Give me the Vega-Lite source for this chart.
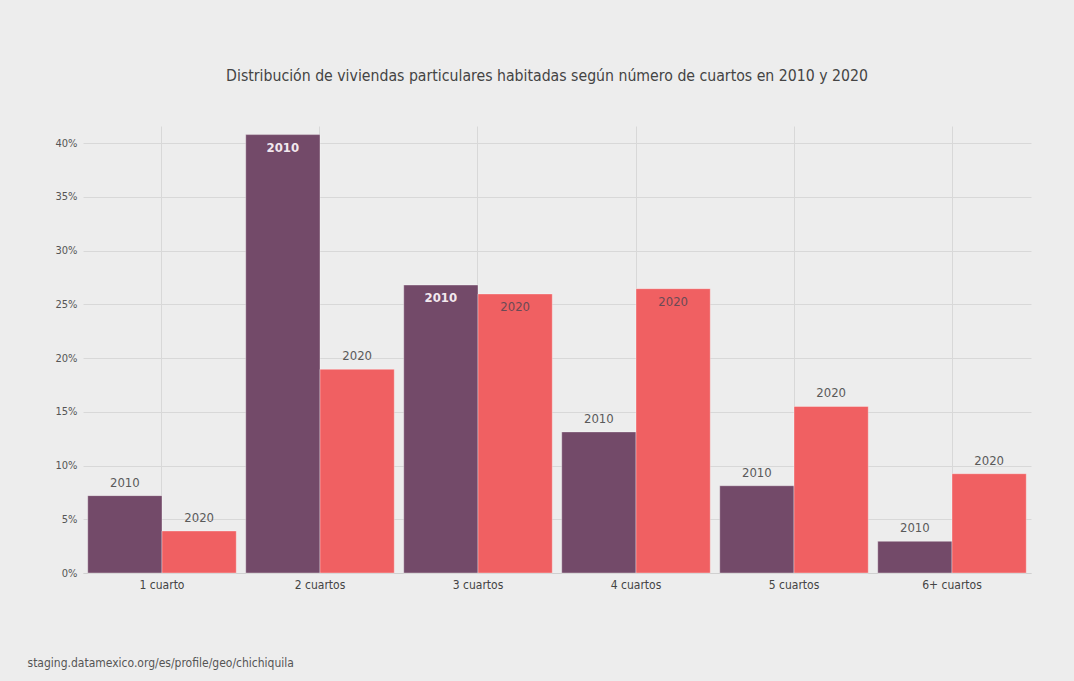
{
  "$schema": "https://vega.github.io/schema/vega-lite/v6.json",
  "width": 948,
  "height": 447,
  "autosize": {"type": "none"},
  "padding": {"left": 83, "top": 126, "right": 43, "bottom": 108},
  "background": "#ededed",
  "title": {
    "text": "Distribución de viviendas particulares habitadas según número de cuartos en 2010 y 2020",
    "anchor": "middle",
    "frame": "group",
    "dx": -10,
    "offset": 41,
    "fontSize": 15.7,
    "fontWeight": "normal",
    "color": "#444444",
    "font": "Liberation Sans Narrow, DejaVu Sans Condensed, Roboto"
  },
  "data": {
    "values": [
      {"cuartos": "1 cuarto", "year": "2010", "pct": 0.072},
      {"cuartos": "1 cuarto", "year": "2020", "pct": 0.0391},
      {"cuartos": "2 cuartos", "year": "2010", "pct": 0.408},
      {"cuartos": "2 cuartos", "year": "2020", "pct": 0.1896},
      {"cuartos": "3 cuartos", "year": "2010", "pct": 0.268},
      {"cuartos": "3 cuartos", "year": "2020", "pct": 0.2597},
      {"cuartos": "4 cuartos", "year": "2010", "pct": 0.1313},
      {"cuartos": "4 cuartos", "year": "2020", "pct": 0.2646},
      {"cuartos": "5 cuartos", "year": "2010", "pct": 0.0812},
      {"cuartos": "5 cuartos", "year": "2020", "pct": 0.155},
      {"cuartos": "6+ cuartos", "year": "2010", "pct": 0.0295},
      {"cuartos": "6+ cuartos", "year": "2020", "pct": 0.0924}
    ]
  },
  "encoding": {
    "x": {
      "field": "cuartos",
      "type": "nominal",
      "sort": null,
      "scale": {"paddingInner": 0.06, "paddingOuter": 0.03},
      "axis": {
        "title": "staging.datamexico.org/es/profile/geo/chichiquila",
        "titleX": -56,
        "titleY": 89,
        "titleAlign": "left",
        "titleBaseline": "middle",
        "titleFontSize": 12,
        "titleFontWeight": "normal",
        "titleColor": "#555555",
        "titleFont": "Liberation Sans Narrow, DejaVu Sans Condensed, Roboto",
        "labelAngle": 0,
        "labelFontSize": 12,
        "labelColor": "#444444",
        "labelFont": "Liberation Sans Narrow, DejaVu Sans Condensed, Roboto",
        "labelPadding": 6,
        "ticks": false,
        "grid": true,
        "bandPosition": 0.5,
        "gridColor": "#d8d8d8",
        "gridWidth": 1,
        "domain": true,
        "domainColor": "#d0d0d0",
        "domainWidth": 1
      }
    },
    "xOffset": {"field": "year", "type": "nominal"},
    "y": {
      "field": "pct",
      "type": "quantitative",
      "scale": {"domain": [0, 0.416], "nice": false},
      "axis": {
        "title": null,
        "values": [0, 0.05, 0.1, 0.15, 0.2, 0.25, 0.3, 0.35, 0.4],
        "format": ".0%",
        "labelFontSize": 11,
        "labelColor": "#555555",
        "labelFont": "Liberation Sans Narrow, DejaVu Sans Condensed, Roboto",
        "labelPadding": 6,
        "ticks": false,
        "domain": false,
        "grid": true,
        "gridColor": "#d8d8d8",
        "gridWidth": 1
      }
    }
  },
  "layer": [
    {
      "mark": {"type": "bar", "stroke": "#ffffff", "strokeOpacity": 0.35, "strokeWidth": 1},
      "encoding": {
        "color": {
          "field": "year",
          "type": "nominal",
          "scale": {"domain": ["2010", "2020"], "range": ["#734a69", "#f06062"]},
          "legend": null
        }
      }
    },
    {
      "transform": [{"filter": "datum.pct < 0.2"}],
      "mark": {
        "type": "text",
        "baseline": "middle",
        "dy": -13,
        "fontSize": 13,
        "color": "#5a5a5a",
        "font": "Liberation Sans Narrow, DejaVu Sans Condensed, Roboto"
      },
      "encoding": {"text": {"field": "year"}}
    },
    {
      "transform": [{"filter": "datum.pct >= 0.2 && datum.year == '2020'"}],
      "mark": {
        "type": "text",
        "baseline": "middle",
        "dy": 13,
        "fontSize": 13,
        "color": "#6a4a55",
        "font": "Liberation Sans Narrow, DejaVu Sans Condensed, Roboto"
      },
      "encoding": {"text": {"field": "year"}}
    },
    {
      "transform": [{"filter": "datum.pct >= 0.2 && datum.year == '2010'"}],
      "mark": {
        "type": "text",
        "baseline": "middle",
        "dy": 13,
        "fontSize": 13,
        "fontWeight": "bold",
        "color": "#f2e8ee",
        "font": "Liberation Sans Narrow, DejaVu Sans Condensed, Roboto"
      },
      "encoding": {"text": {"field": "year"}}
    }
  ],
  "config": {"view": {"stroke": null}}
}
